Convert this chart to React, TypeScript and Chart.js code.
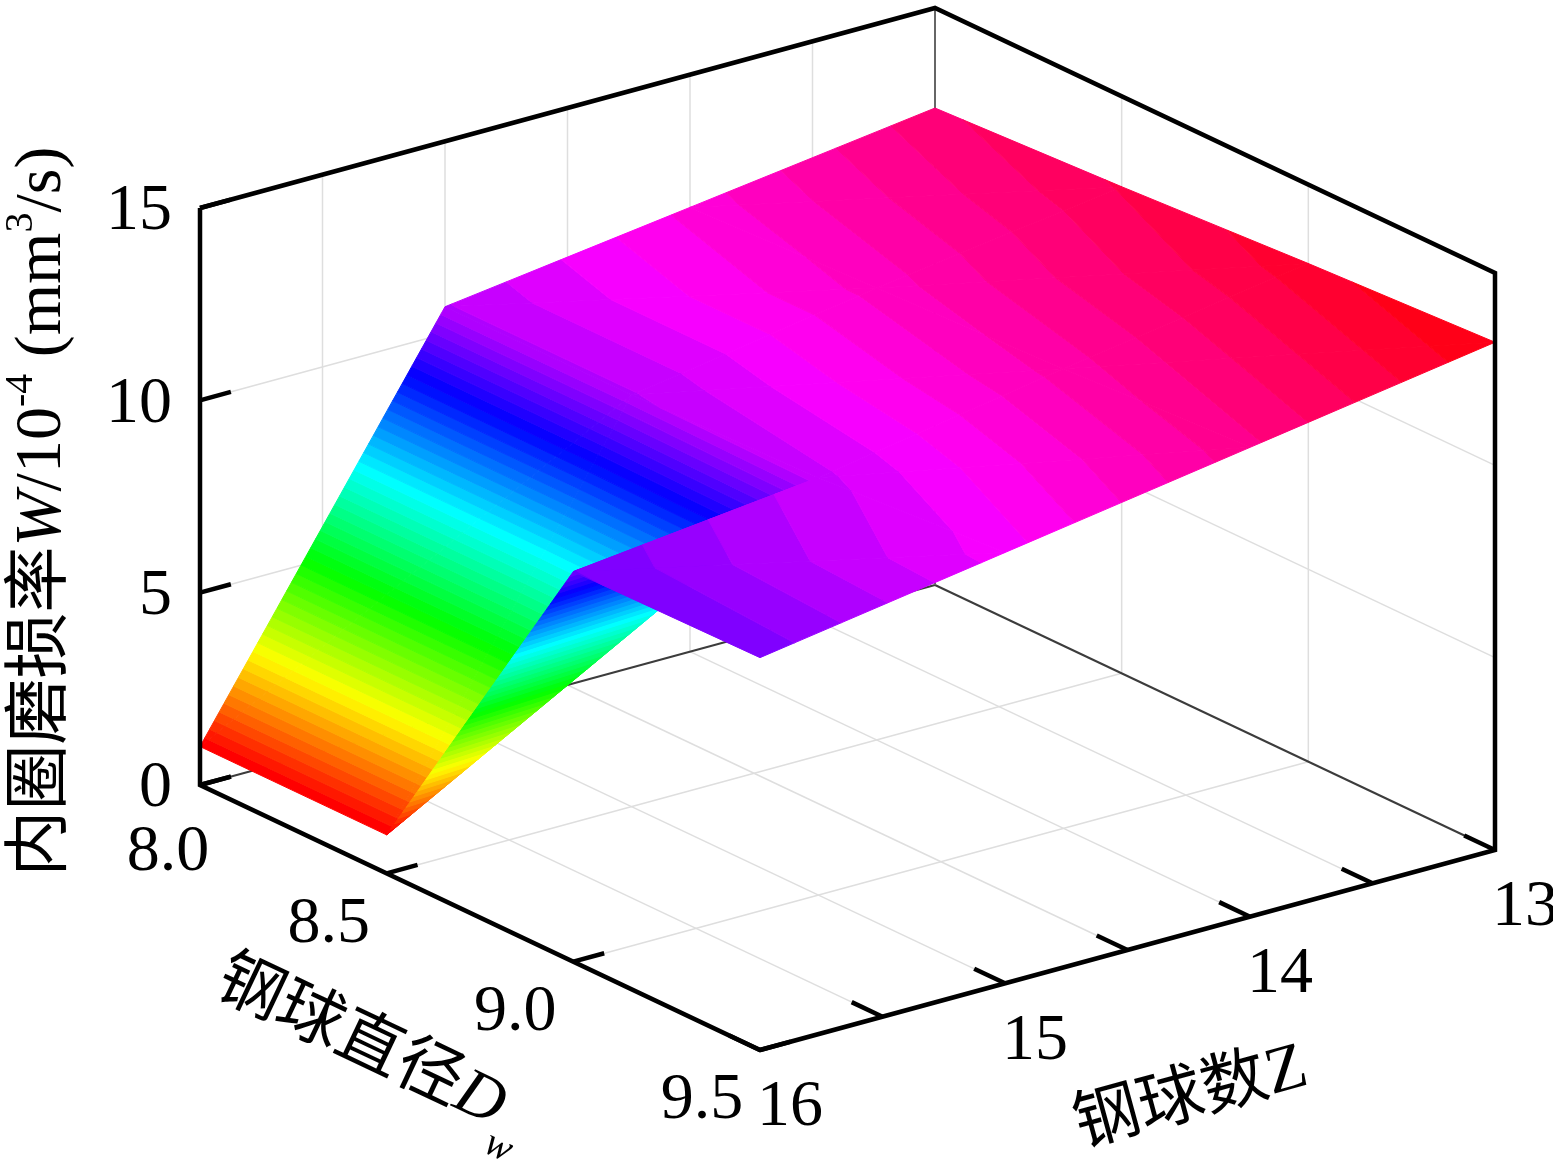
import { useEffect, useRef } from "react"
import { Chart, registerables } from "chart.js"

Chart.register(...registerables)

// 钢球直径 Dw (mm) and 钢球数 Z
const diameters = [8.0, 8.5, 9.0, 9.5]
const ballCounts = [13, 14, 15, 16]

// 内圈磨损率 W (10^-4 mm^3/s), one row per ball count, columns follow diameters
const wearZ13 = [12.4, 12.65, 12.95, 13.2]
const wearZ14 = [11.55, 11.75, 11.95, 12.2]
const wearZ15 = [10.7, 10.7, 10.85, 11.2]
const wearZ16 = [1.0, 1.0, 10.14, 10.2]
const wearRows = [wearZ13, wearZ14, wearZ15, wearZ16]

// axes
const wTicks = [0, 5, 10, 15]
const wTickLabels = ["0", "5", "10", "15"]
const dwTicks = [8.0, 8.5, 9.0, 9.5]
const dwTickLabels = ["8.0", "8.5", "9.0", "9.5"]
const zTicks = [13, 13.5, 14, 14.5, 15, 15.5, 16]
const zTickLabels = ["13", "", "14", "", "15", "", "16"]

const DW_LIM = [8.0, 9.5]
const Z_LIM = [13, 16]
const W_LIM = [0, 15]

// where the box sits on the canvas: corner (Dw 8.0, Z 16, W 0) and the
// screen vectors of the full Dw span, the full Z span (16 -> 13) and the W span
const VIEW = { ox: 200, oy: 785, dwx: 560, dwy: 265, zx: 735, zy: -200, wy: -577 }

const CMAP_SIZE = 64
const FONT = '"Liberation Serif", "Times New Roman", "Noto Sans CJK SC", serif'
const TEXT_SIZE = 66
const GRID = "#dedede"
const AXIS_W = 4.5

type P3 = [number, number, number]

function unit(p: P3) {
  return [
    (p[0] - DW_LIM[0]) / (DW_LIM[1] - DW_LIM[0]),
    (Z_LIM[1] - p[1]) / (Z_LIM[1] - Z_LIM[0]),
    (p[2] - W_LIM[0]) / (W_LIM[1] - W_LIM[0]),
  ]
}

function project(p: P3) {
  const [u, v, h] = unit(p)
  return {
    x: VIEW.ox + VIEW.dwx * u + VIEW.zx * v,
    y: VIEW.oy + VIEW.dwy * u + VIEW.zy * v + VIEW.wy * h,
  }
}

// direction that collapses onto one pixel, pointing at the viewer
const toViewer = [-VIEW.zx * VIEW.wy, VIEW.dwx * VIEW.wy, VIEW.zx * VIEW.dwy - VIEW.dwx * VIEW.zy]

function closeness(p: P3) {
  const u = unit(p)
  return u[0] * toViewer[0] + u[1] * toViewer[1] + u[2] * toViewer[2]
}

// matlab style hsv colormap
function hsvColor(i: number) {
  const h = (i / CMAP_SIZE) * 6
  const k = Math.floor(h)
  const f = h - k
  const q = 1 - f
  const rgb = [
    [1, f, 0],
    [q, 1, 0],
    [0, 1, f],
    [0, q, 1],
    [f, 0, 1],
    [1, 0, q],
  ][k % 6]
  return `rgb(${rgb.map((c) => Math.round(c * 255)).join(",")})`
}

function clip(poly: P3[], level: number, keepAbove: boolean): P3[] {
  const out: P3[] = []
  for (let i = 0; i < poly.length; i++) {
    const a = poly[i]
    const b = poly[(i + 1) % poly.length]
    const ina = keepAbove ? a[2] >= level : a[2] <= level
    const inb = keepAbove ? b[2] >= level : b[2] <= level
    if (ina) out.push(a)
    if (ina !== inb) {
      const t = (level - a[2]) / (b[2] - a[2])
      out.push([a[0] + t * (b[0] - a[0]), a[1] + t * (b[1] - a[1]), level])
    }
  }
  return out
}

function segment(points: P3[], color: string, width: number, extra = {}) {
  return {
    data: points.map(project),
    borderColor: color,
    borderWidth: width,
    fill: false,
    pointRadius: 0,
    pointHitRadius: 0,
    tension: 0,
    ...extra,
  }
}

function surfaceDatasets() {
  const all = wearRows.flat()
  const cmin = Math.min(...all)
  const cmax = Math.max(...all)
  const step = (cmax - cmin) / CMAP_SIZE
  const bandOf = (w: number) => Math.max(0, Math.min(CMAP_SIZE - 1, Math.floor((w - cmin) / step)))
  const node = (i: number, k: number): P3 => [diameters[i], ballCounts[k], wearRows[k][i]]

  const tris: P3[][] = []
  for (let k = 0; k < ballCounts.length - 1; k++) {
    for (let i = 0; i < diameters.length - 1; i++) {
      const a = node(i, k)
      const b = node(i + 1, k)
      const c = node(i, k + 1)
      const d = node(i + 1, k + 1)
      tris.push([a, b, c], [b, d, c])
    }
  }
  const depth = (t: P3[]) => t.reduce((s, p) => s + closeness(p), 0) / 3
  tris.sort((s, t) => depth(s) - depth(t))

  const sets: any[] = []
  tris.forEach((tri) => {
    const ws = tri.map((p) => p[2])
    const j0 = bandOf(Math.min(...ws))
    const j1 = bandOf(Math.max(...ws))
    for (let j = j0; j <= j1; j++) {
      let poly = tri
      if (j > 0) poly = clip(poly, cmin + j * step, true)
      if (j < CMAP_SIZE - 1) poly = clip(poly, cmin + (j + 1) * step, false)
      if (poly.length < 3) continue
      const pts = poly.map(project)
      pts.push(pts[0])
      const col = hsvColor(j)
      sets.push({
        data: pts,
        backgroundColor: col,
        borderColor: col,
        borderWidth: 1,
        borderJoinStyle: "round",
        fill: "shape",
        pointRadius: 0,
        pointHitRadius: 0,
        tension: 0,
      })
    }
  })
  return sets
}

function buildDatasets() {
  const [d0, d1] = DW_LIM
  const [z0, z1] = Z_LIM
  const [w0, w1] = W_LIM
  const sets: any[] = []

  // grid on floor and the two back walls
  dwTicks.slice(1, -1).forEach((dw) => {
    sets.push(segment([[dw, z1, w0], [dw, z0, w0]], GRID, 1.5))
    sets.push(segment([[dw, z0, w0], [dw, z0, w1]], GRID, 1.5))
  })
  zTicks.slice(1, -1).forEach((z) => {
    sets.push(segment([[d0, z, w0], [d1, z, w0]], GRID, 1.5))
    sets.push(segment([[d0, z, w0], [d0, z, w1]], GRID, 1.5))
  })
  wTicks.slice(1, -1).forEach((w) => {
    sets.push(segment([[d0, z1, w], [d0, z0, w]], GRID, 1.5))
    sets.push(segment([[d0, z0, w], [d1, z0, w]], GRID, 1.5))
  })

  // hidden box edges
  sets.push(segment([[d0, z1, w0], [d0, z0, w0]], "#3c3c3c", 2))
  sets.push(segment([[d0, z0, w0], [d1, z0, w0]], "#3c3c3c", 2))
  sets.push(segment([[d0, z0, w0], [d0, z0, w1]], "#666666", 2))

  sets.push(...surfaceDatasets())

  // front box outline
  sets.push(
    segment(
      [
        [d0, z1, w1],
        [d0, z0, w1],
        [d1, z0, w1],
        [d1, z0, w0],
        [d1, z1, w0],
        [d0, z1, w0],
        [d0, z1, w1],
      ],
      "#000",
      AXIS_W,
      { borderJoinStyle: "miter" }
    )
  )

  // tick marks, pointing into the box
  const zLen = 0.042 * (z1 - z0)
  const dwLen = 0.055 * (d1 - d0)
  wTicks.forEach((w) => sets.push(segment([[d0, z1, w], [d0, z1 - zLen, w]], "#000", AXIS_W)))
  dwTicks.forEach((dw) => sets.push(segment([[dw, z1, w0], [dw, z1 - zLen, w0]], "#000", AXIS_W)))
  zTicks.forEach((z) => sets.push(segment([[d1, z, w0], [d1 - dwLen, z, w0]], "#000", AXIS_W)))

  // first entries are painted first
  return sets.map((s, i) => ({ ...s, order: sets.length - i }))
}

type Run = { t: string; italic?: boolean; sup?: boolean; sub?: boolean }

function drawRuns(ctx: CanvasRenderingContext2D, runs: Run[], cx: number, cy: number, angle: number) {
  const fontFor = (r: Run) =>
    `${r.italic ? "italic " : ""}${r.sup || r.sub ? Math.round(TEXT_SIZE * 0.6) : TEXT_SIZE}px ${FONT}`
  const widths = runs.map((r) => {
    ctx.font = fontFor(r)
    return ctx.measureText(r.t).width
  })
  const total = widths.reduce((a, b) => a + b, 0)
  ctx.save()
  ctx.translate(cx, cy)
  ctx.rotate(angle)
  ctx.textAlign = "left"
  ctx.textBaseline = "alphabetic"
  ctx.fillStyle = "#000"
  let x = -total / 2
  const base = TEXT_SIZE * 0.36
  runs.forEach((r, i) => {
    ctx.font = fontFor(r)
    const dy = r.sup ? -TEXT_SIZE * 0.42 : r.sub ? TEXT_SIZE * 0.42 : 0
    ctx.fillText(r.t, x, base + dy)
    x += widths[i]
  })
  ctx.restore()
}

const axisText = {
  id: "axisText",
  afterDraw(chart: Chart) {
    const { ctx } = chart
    const sx = chart.scales.x
    const sy = chart.scales.y
    const at = (p: P3) => {
      const q = project(p)
      return [sx.getPixelForValue(q.x), sy.getPixelForValue(q.y)]
    }
    ctx.save()
    ctx.fillStyle = "#000"
    ctx.font = `${TEXT_SIZE}px ${FONT}`
    ctx.textBaseline = "middle"

    ctx.textAlign = "right"
    wTicks.forEach((w, i) => {
      const [x, y] = at([DW_LIM[0], Z_LIM[1], w])
      ctx.fillText(wTickLabels[i], x - 28, y + 4)
    })

    ctx.textAlign = "center"
    dwTicks.forEach((dw, i) => {
      const [x, y] = at([dw, Z_LIM[1], W_LIM[0]])
      // first label is pushed clear of the "0" on the vertical axis
      const nudge = i === 0 ? [26, 17] : [0, 0]
      ctx.fillText(dwTickLabels[i], x - 58 + nudge[0], y + 51 + nudge[1])
    })

    zTicks.forEach((z, i) => {
      if (!zTickLabels[i]) return
      const [x, y] = at([DW_LIM[1], z, W_LIM[0]])
      ctx.fillText(zTickLabels[i], x + 30, y + 58)
    })
    ctx.restore()

    const [wx, wy] = at([DW_LIM[0], Z_LIM[1], (W_LIM[0] + W_LIM[1]) / 2])
    drawRuns(
      ctx,
      [
        { t: "内圈磨损率" },
        { t: "W", italic: true },
        { t: "/10" },
        { t: "-4", sup: true },
        { t: " (mm" },
        { t: "3", sup: true },
        { t: "/s)" },
      ],
      wx - 164,
      wy + 15,
      -Math.PI / 2
    )

    const [dx, dy] = at([(DW_LIM[0] + DW_LIM[1]) / 2, Z_LIM[1], W_LIM[0]])
    drawRuns(
      ctx,
      [{ t: "钢球直径" }, { t: "D", italic: true }, { t: "w", italic: true, sub: true }],
      dx - 105,
      dy + 126,
      Math.atan2(VIEW.dwy, VIEW.dwx)
    )

    const [zx, zy] = at([DW_LIM[1], (Z_LIM[0] + Z_LIM[1]) / 2, W_LIM[0]])
    drawRuns(ctx, [{ t: "钢球数Z" }], zx + 62, zy + 142, Math.atan2(VIEW.zy, VIEW.zx))
  },
}

export default function App() {
  const canvasRef = useRef<HTMLCanvasElement | null>(null)

  useEffect(() => {
    document.body.style.margin = "0"
    const ctx = canvasRef.current?.getContext("2d")
    if (!ctx) return

    const chart = new Chart(ctx, {
      type: "line",
      data: { datasets: buildDatasets() },
      options: {
        animation: false,
        responsive: false,
        events: [],
        layout: { padding: 0 },
        scales: {
          x: { type: "linear", display: false, min: 0, max: 1553 },
          y: { type: "linear", display: false, min: 0, max: 1160, reverse: true },
        },
        plugins: {
          legend: { display: false },
          tooltip: { enabled: false },
        },
      },
      plugins: [axisText],
    } as any)

    return () => chart.destroy()
  }, [])

  return (
    <div style={{ position: "fixed", left: 0, top: 0, width: 1553, height: 1160, background: "#fff" }}>
      <canvas ref={canvasRef} width={1553} height={1160} style={{ display: "block" }} />
    </div>
  )
}
